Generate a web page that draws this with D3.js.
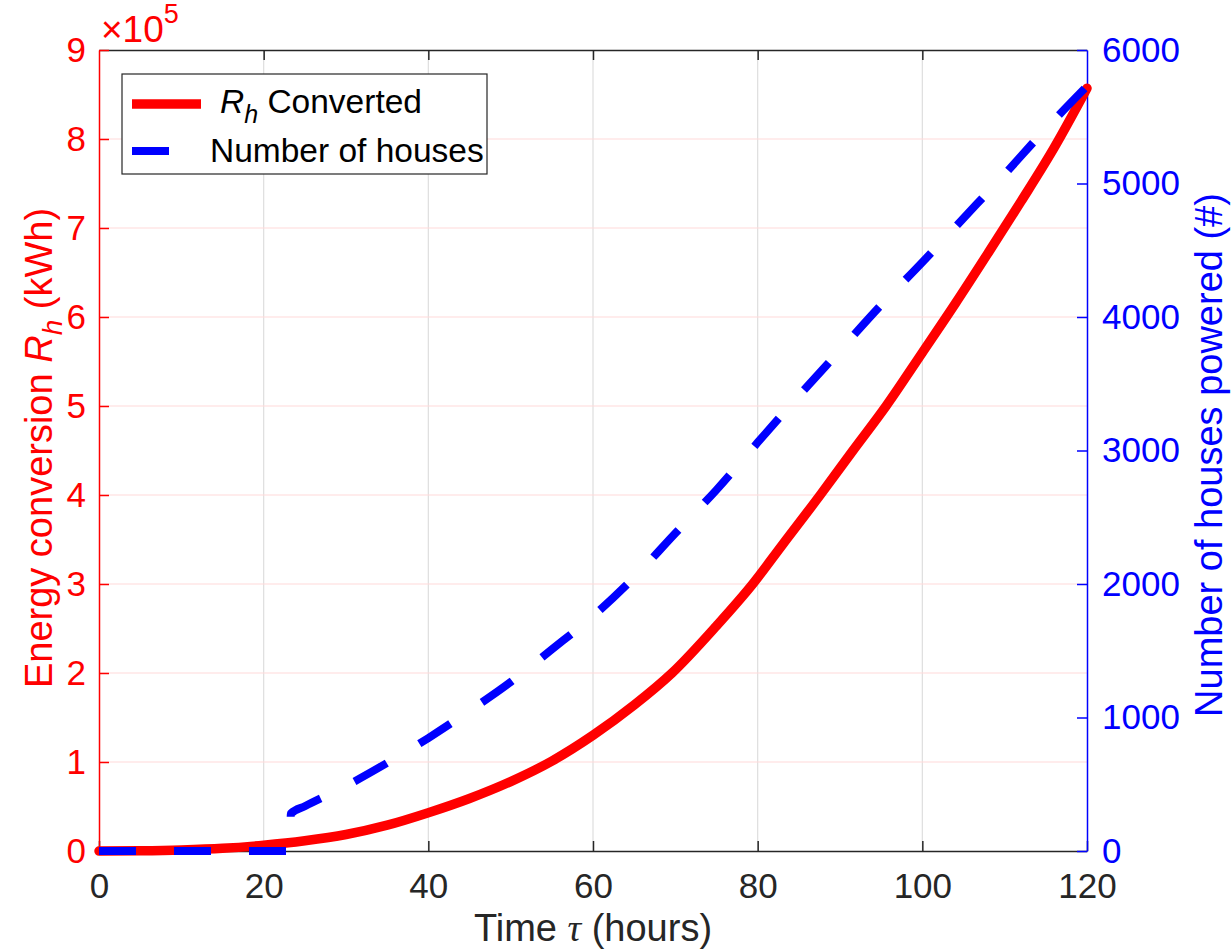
<!DOCTYPE html>
<html>
<head>
<meta charset="utf-8" />
<script src="https://d3js.org/d3.v7.min.js"></script>
<style>
  body { margin: 0; background: #fff; }
  text { font-family: "Liberation Sans", Arial, Helvetica, sans-serif; }
</style>
</head>
<body>
<div id="chart"></div>
<script>

// time axis (hours) and energy converted R_h (x 1e5 kWh)
var timeR = [0, 5, 10, 15, 20, 25, 30, 35, 40, 45, 50, 55, 60, 65, 69.6, 75, 79.4, 83, 87.6, 91.5, 95.6, 100, 104, 108, 112, 116, 120];
var energyR = [0, 0.003, 0.012, 0.03, 0.065, 0.115, 0.185, 0.29, 0.43, 0.59, 0.78, 1.01, 1.3, 1.64, 2.0, 2.53, 3.0, 3.44, 4.0, 4.49, 5.0, 5.6, 6.15, 6.72, 7.3, 7.9, 8.57];

// number of houses powered
var timeH = [0, 23.2, 23.3, 25, 30, 35, 40, 45, 50, 55, 60, 65, 70, 75, 80, 85, 90, 95, 100, 105, 110, 115, 120];
var houses = [0, 0, 280, 335, 487, 660, 846, 1050, 1266, 1510, 1760, 2050, 2380, 2705, 3060, 3410, 3750, 4090, 4410, 4740, 5070, 5410, 5730];

var xTicks = [0, 20, 40, 60, 80, 100, 120];
var leftTicks = [0, 1, 2, 3, 4, 5, 6, 7, 8, 9];
var rightTicks = [0, 1000, 2000, 3000, 4000, 5000, 6000];

var W = 1232, H = 951;
var margin = {top: 50, right: 145, bottom: 100, left: 99};
var pw = W - margin.left - margin.right, ph = H - margin.top - margin.bottom;

var svg = d3.select("#chart").append("svg").attr("width", W).attr("height", H);
var g = svg.append("g").attr("transform", "translate(" + margin.left + "," + margin.top + ")");

var x = d3.scaleLinear().domain([0, 120]).range([0, pw]);
var yL = d3.scaleLinear().domain([0, 9]).range([ph, 0]);
var yR = d3.scaleLinear().domain([0, 6000]).range([ph, 0]);

var fs = 35;     // tick labels
var fl = 38;     // axis labels

// grid
g.selectAll(".vgrid").data(xTicks.slice(1, -1)).enter().append("line")
  .attr("x1", d => x(d)).attr("x2", d => x(d)).attr("y1", 0).attr("y2", ph)
  .attr("stroke", "#dedede").attr("stroke-width", 1.2);
g.selectAll(".hgrid").data(leftTicks.slice(1, -1)).enter().append("line")
  .attr("x1", 0).attr("x2", pw).attr("y1", d => yL(d)).attr("y2", d => yL(d))
  .attr("stroke", "#ffd9d9").attr("stroke-width", 1.2);

// bottom / top axes
var xAxis = d3.axisBottom(x).tickValues(xTicks).tickSizeInner(-10).tickSizeOuter(0).tickPadding(22);
var gx = g.append("g").attr("transform", "translate(0," + ph + ")").call(xAxis);
gx.select(".domain").attr("stroke", "#262626").attr("stroke-width", 1.5);
gx.selectAll(".tick line").attr("stroke", "#262626").attr("stroke-width", 1.5);
gx.selectAll("text").attr("fill", "#262626").style("font-size", fs + "px").attr("font-family", null);

var gxt = g.append("g").call(d3.axisTop(x).tickValues(xTicks.slice(1, -1)).tickSizeInner(-10).tickSizeOuter(0).tickFormat(""));
gxt.select(".domain").attr("stroke", "#262626").attr("stroke-width", 1.5);
gxt.selectAll(".tick line").attr("stroke", "#262626").attr("stroke-width", 1.5);

// left axis (red)
var gl = g.append("g").call(d3.axisLeft(yL).tickValues(leftTicks).tickSizeInner(-10).tickSizeOuter(0).tickPadding(13));
gl.select(".domain").attr("stroke", "#ff0000").attr("stroke-width", 1.5);
gl.selectAll(".tick line").attr("stroke", "#ff0000").attr("stroke-width", 1.5);
gl.selectAll("text").attr("fill", "#ff0000").style("font-size", fs + "px").attr("font-family", null);

// right axis (blue)
var gr = g.append("g").attr("transform", "translate(" + pw + ",0)")
  .call(d3.axisRight(yR).tickValues(rightTicks).tickFormat(d3.format("d"))
    .tickSizeInner(-10).tickSizeOuter(0).tickPadding(15));
gr.select(".domain").attr("stroke", "#0000ff").attr("stroke-width", 1.5);
gr.selectAll(".tick line").attr("stroke", "#0000ff").attr("stroke-width", 1.5);
gr.selectAll("text").attr("fill", "#0000ff").style("font-size", fs + "px").attr("font-family", null);

// x10^5 exponent
var ex = svg.append("text").attr("x", 101).attr("y", 42).attr("fill", "#ff0000").style("font-size", "37px");
ex.append("tspan").text("\u00d710");
ex.append("tspan").attr("dy", -19).style("font-size", "27px").text("5");

// lines
var lineR = d3.line().curve(d3.curveMonotoneX).x((d, i) => x(timeR[i])).y(d => yL(d));
g.append("path").datum(energyR).attr("d", lineR)
  .attr("fill", "none").attr("stroke", "#ff0000").attr("stroke-width", 9.5)
  .attr("stroke-linejoin", "round").attr("stroke-linecap", "round");

var lineH = d3.line().curve(d3.curveMonotoneX).x((d, i) => x(timeH[i])).y(d => yR(d));
g.append("path").datum(houses).attr("d", lineH)
  .attr("fill", "none").attr("stroke", "#0000ff").attr("stroke-width", 8)
  .attr("stroke-dasharray", "37,38").attr("stroke-linejoin", "round").attr("stroke-linecap", "butt");

// axis labels
var xl = svg.append("text").attr("x", margin.left + pw / 2).attr("y", 941)
  .attr("text-anchor", "middle").attr("fill", "#262626").style("font-size", fl + "px");
xl.append("tspan").text("Time ");
xl.append("tspan").attr("font-family", "Liberation Serif, serif").style("font-style", "italic").text("\u03c4");
xl.append("tspan").text(" (hours)");

var ll = svg.append("text").attr("transform", "translate(52,448) rotate(-90)")
  .attr("text-anchor", "middle").attr("fill", "#ff0000").style("font-size", fl + "px");
ll.append("tspan").text("Energy conversion  ");
ll.append("tspan").style("font-style", "italic").text("R");
ll.append("tspan").style("font-style", "italic").style("font-size", "28px").attr("dy", 10).text("h");
ll.append("tspan").attr("dy", -10).text(" (kWh)");

svg.append("text").attr("transform", "translate(1222,455) rotate(-90)")
  .attr("text-anchor", "middle").attr("fill", "#0000ff").style("font-size", fl + "px")
  .text("Number of houses powered (#)");

// legend
var leg = svg.append("g");
leg.append("rect").attr("x", 122).attr("y", 74).attr("width", 365).attr("height", 100)
  .attr("fill", "#fff").attr("stroke", "#262626").attr("stroke-width", 1.2);
leg.append("line").attr("x1", 132).attr("x2", 201).attr("y1", 104).attr("y2", 104)
  .attr("stroke", "#ff0000").attr("stroke-width", 9.5);
leg.append("line").attr("x1", 132).attr("x2", 169).attr("y1", 151).attr("y2", 151)
  .attr("stroke", "#0000ff").attr("stroke-width", 8);
var t1 = leg.append("text").attr("x", 220).attr("y", 113).attr("fill", "#000").style("font-size", "33.5px");
t1.append("tspan").style("font-style", "italic").text("R");
t1.append("tspan").style("font-style", "italic").style("font-size", "25px").attr("dy", 10).text("h");
t1.append("tspan").attr("dy", -10).text(" Converted");
leg.append("text").attr("x", 210).attr("y", 162).attr("fill", "#000").style("font-size", "33.5px")
  .text("Number of houses");

</script>
</body>
</html>
